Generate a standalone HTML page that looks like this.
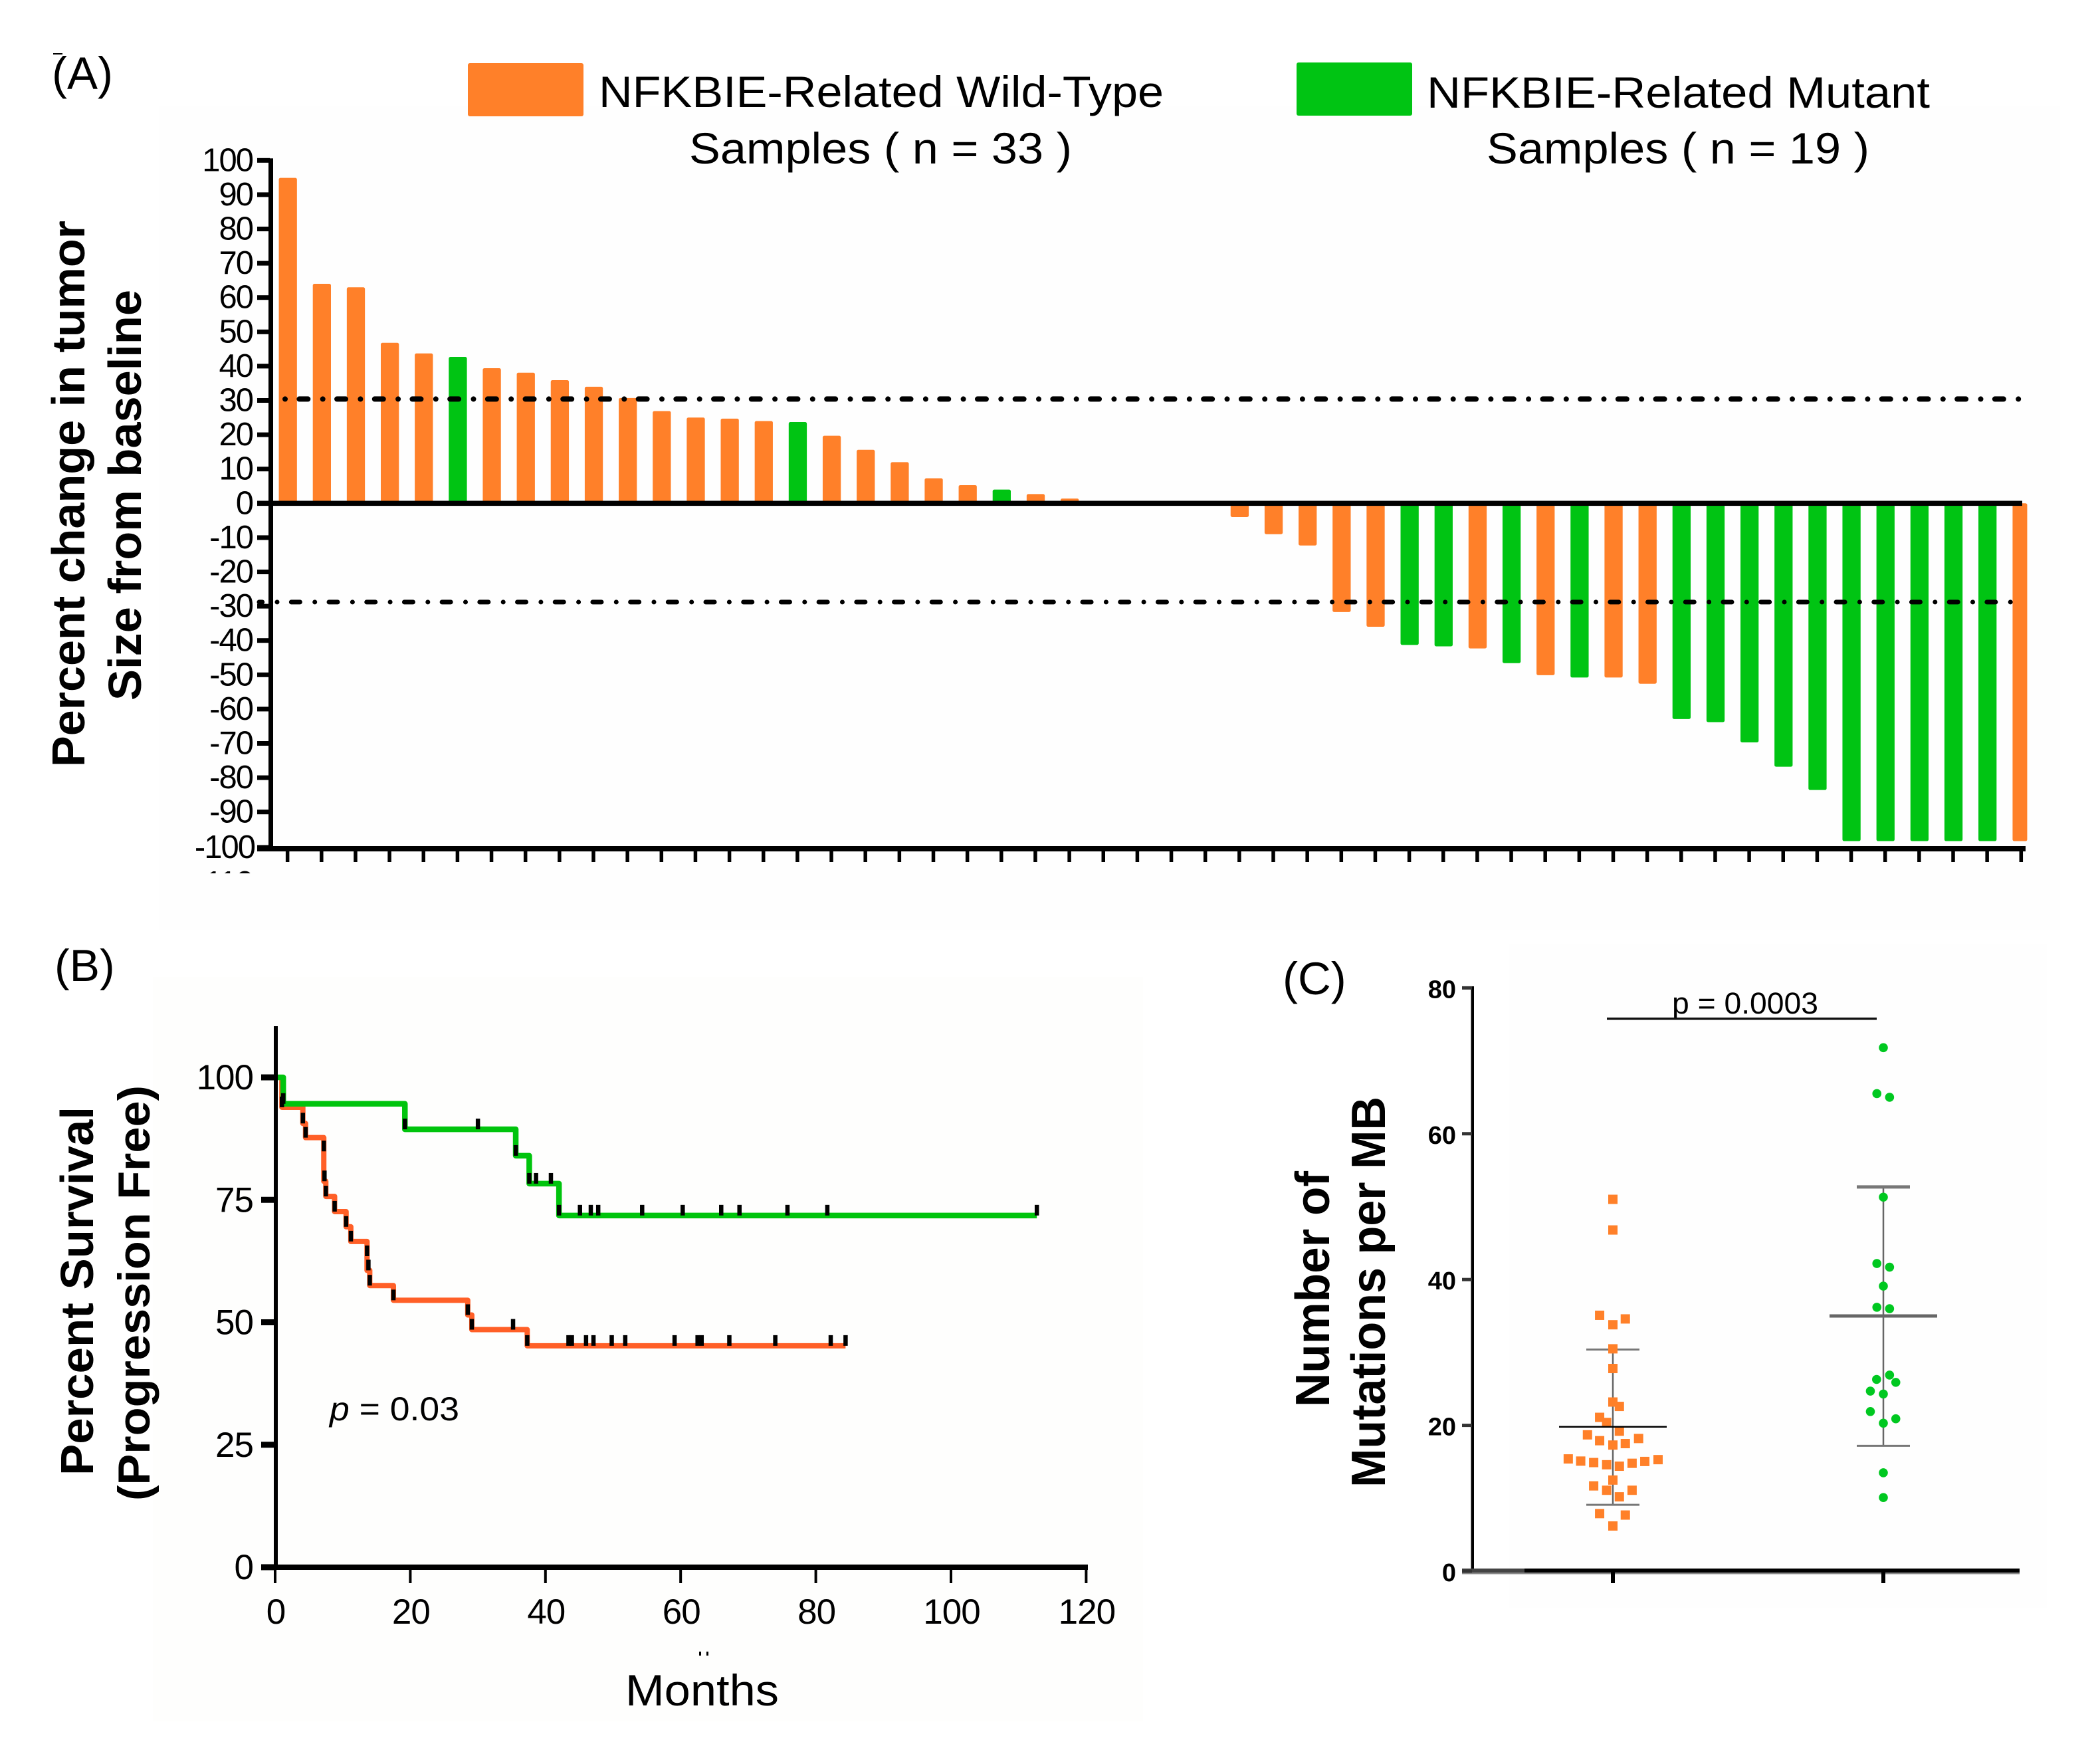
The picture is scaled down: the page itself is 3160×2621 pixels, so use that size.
<!DOCTYPE html>
<html>
<head>
<meta charset="utf-8">
<title>NFKBIE tumor response, survival and mutation burden</title>
<style>
html,body{margin:0;padding:0;background:#fff;width:3160px;height:2621px;overflow:hidden}
svg{display:block;font-family:"Liberation Sans",sans-serif}
</style>
</head>
<body>
<svg id="fig" xmlns="http://www.w3.org/2000/svg" width="3160" height="2621" viewBox="0 0 3160 2621">
  <defs><clipPath id="cut110"><rect x="280" y="1308" width="110" height="6"/></clipPath></defs>
  <rect width="3160" height="2621" fill="#fff"/>
  <rect x="240" y="160" width="2860" height="1240" fill="#fefefe"/>
  <rect x="230" y="1470" width="1490" height="1120" fill="#fefefd"/>
  <rect x="2270" y="1420" width="810" height="1000" fill="#fefefe"/>

  <text x="78" y="134" font-size="69">(A)</text>
  <rect x="80" y="80" width="14" height="2" fill="#000"/>
  <rect x="704" y="95" width="174" height="80" rx="3" fill="#ff8029"/>
  <text x="901" y="161" font-size="66" textLength="850" lengthAdjust="spacingAndGlyphs">NFKBIE-Related Wild-Type</text>
  <text x="1037" y="246" font-size="66" textLength="576" lengthAdjust="spacingAndGlyphs">Samples ( n = 33 )</text>
  <rect x="1951" y="94" width="174" height="80" rx="3" fill="#00c413"/>
  <text x="2147" y="162" font-size="66" textLength="757" lengthAdjust="spacingAndGlyphs">NFKBIE-Related Mutant</text>
  <text x="2237" y="246" font-size="66" textLength="576" lengthAdjust="spacingAndGlyphs">Samples ( n = 19 )</text>
  <text transform="translate(127,1154) rotate(-90)" font-size="70" font-weight="bold" textLength="822" lengthAdjust="spacingAndGlyphs">Percent change in tumor</text>
  <text transform="translate(212,1054) rotate(-90)" font-size="70" font-weight="bold" textLength="618" lengthAdjust="spacingAndGlyphs">Size from baseline</text>
  <text x="380" y="1345" font-size="49" letter-spacing="-2" text-anchor="end" clip-path="url(#cut110)">-110</text>
  <g id="panelA"></g>

  <text x="82" y="1476" font-size="68">(B)</text>
  <text transform="translate(140,2220) rotate(-90)" font-size="70" font-weight="bold" textLength="555" lengthAdjust="spacingAndGlyphs">Percent Survival</text>
  <text transform="translate(225,2258) rotate(-90)" font-size="68" font-weight="bold" textLength="625" lengthAdjust="spacingAndGlyphs">(Progression Free)</text>
  <text x="941" y="2566" font-size="66" textLength="231" lengthAdjust="spacingAndGlyphs">Months</text>
  <rect x="1052" y="2485" width="3" height="6" fill="#000"/>
  <rect x="1063" y="2485" width="3" height="6" fill="#000"/>
  <text x="496" y="2137" font-size="50" textLength="195" lengthAdjust="spacingAndGlyphs"><tspan font-style="italic">p</tspan> = 0.03</text>
  <g id="panelB"></g>

  <text x="1930" y="1496" font-size="69">(C)</text>
  <text transform="translate(2000,2117) rotate(-90)" font-size="72" font-weight="bold" textLength="355" lengthAdjust="spacingAndGlyphs">Number of</text>
  <text transform="translate(2084,2238) rotate(-90)" font-size="72" font-weight="bold" textLength="588" lengthAdjust="spacingAndGlyphs">Mutations per MB</text>
  <text x="2516" y="1525" font-size="45" textLength="220" lengthAdjust="spacingAndGlyphs">p = 0.0003</text>
  <rect x="2418" y="1531" width="406" height="3.5" fill="#111"/>
  <g id="panelC"></g>
</svg>
<script>
// Panel A data
const waterfallValues = [94.9,64,63,46.8,43.7,42.7,39.4,38.1,35.9,34,30.7,26.9,25,24.7,24,23.7,19.7,15.6,12,7.3,5.3,4,2.7,1.4,0,0,0,0,-4,-9,-12.3,-31.7,-36,-41.3,-41.7,-42.3,-46.6,-50.1,-50.8,-50.8,-52.6,-62.9,-63.8,-69.7,-76.8,-83.6,-98.5,-98.5,-98.5,-98.5,-98.5,-98.5];
const waterfallGroups = ['W','W','W','W','W','M','W','W','W','W','W','W','W','W','W','M','W','W','W','W','W','M','W','W','W','W','W','W','W','W','W','W','W','M','M','W','M','W','M','W','W','M','M','M','M','M','M','M','M','M','M','W'];
const waterfallYTicks = [100,90,80,70,60,50,40,30,20,10,0,-10,-20,-30,-40,-50,-60,-70,-80,-90,-100];
const upperThreshold = 30.4;
const lowerThreshold = -28.8;

// Panel B data
const wtMonths = [0,1,4.1,4.5,7.2,7.5,8.8,10.5,11.2,13.6,14,17.5,28.5,29.1,37.3,84.4];
const wtSurvival = [100,93.9,90.6,87.7,78.8,75.7,72.6,69.5,66.5,60.6,57.5,54.5,51.5,48.5,45.2,45.2];
const mutMonths = [0,1.2,19.2,35.6,37.6,42,112.7];
const mutSurvival = [100,94.6,89.4,84,78.3,71.8,71.8];
const wtCensorMonths = [1,4.1,4.5,7.2,7.3,7.5,8.8,10.5,11.2,13.6,13.8,14,17.5,28.5,29.1,35.2,37.3,43.4,43.9,46,47.1,49.8,51.8,59.1,62.5,63.1,67.2,74,82.2,84.4];
const wtCensorSurvival = [93.9,90.6,87.7,84.9,78.8,75.7,72.6,69.5,66.5,63.5,60.6,57.5,54.5,51.5,48.5,48.5,45.2,45.2,45.2,45.2,45.2,45.2,45.2,45.2,45.2,45.2,45.2,45.2,45.2,45.2];
const mutCensorMonths = [1.2,19.2,30,35.6,37.6,38.6,40.8,42,45.1,46.7,47.8,54.3,60.3,66,68.7,75.8,81.7,112.7];
const mutCensorSurvival = [94.6,89.4,89.4,84,78.3,78.3,78.3,71.8,71.8,71.8,71.8,71.8,71.8,71.8,71.8,71.8,71.8,71.8];
const survivalYTicks = [100,75,50,25,0];
const survivalXTicks = [0,20,40,60,80,100,120];

// Panel C data
const mutationYTicks = [80,60,40,20,0];
const wtBurden = [51,46.8,35.1,34.6,33.8,30.5,27.8,23.2,22.6,21.1,20.4,19.2,18.7,18.2,17.9,17.5,17.3,15.4,15.3,15.1,15.05,14.9,14.8,14.6,14.4,12.5,11.7,11.1,11.1,10.2,7.9,7.7,6.2];
const wtJitter = [0,0,-0.049,0.046,0,0,0,0,0.024,-0.049,-0.023,0.024,-0.094,0.095,-0.049,0.046,0,-0.165,0.167,-0.119,0.118,-0.071,0.071,-0.023,0.024,0,-0.071,0.071,-0.023,0.024,-0.049,0.046,0];
const mutBurden = [71.8,65.5,65,51.3,42.2,41.7,39.1,36.2,36,26.9,26.3,25.9,24.7,24.3,21.9,20.9,20.3,13.5,10.1];
const mutJitter = [0,-0.024,0.023,0,-0.024,0.023,0,-0.024,0.023,0.023,-0.025,0.046,-0.048,0,-0.048,0.046,0,0,0];
const wtSummary = [19.8,30.4,9.1];
const mutSummary = [35,52.7,17.2];

const NS = 'http://www.w3.org/2000/svg';
const ORANGE = '#ff8029', GREEN = '#00c413', KM_ORANGE = '#ff5f27', KM_GREEN = '#00c40d';

function add(parent, tag, attrs, text) {
  const n = document.createElementNS(NS, tag);
  for (const k in attrs) n.setAttribute(k, attrs[k]);
  if (text !== undefined) n.textContent = text;
  parent.appendChild(n);
  return n;
}

/* ---------- Panel A ---------- */
const gA = document.getElementById('panelA');
const ax = i => 433.2 + 51.15 * i;
const ay = v => 757.3 - 5.16 * v;

waterfallValues.forEach((v, i) => {
  const last = i === waterfallValues.length - 1;
  const w = last ? 22 : 27.3;
  const cx = last ? ax(i) - 2.4 : ax(i);
  const bar = add(gA, 'rect', {x: cx - w / 2, y: Math.min(ay(v), ay(0)), width: w, height: Math.abs(ay(v) - ay(0)), rx: v === 0 ? 0 : 2.5, fill: waterfallGroups[i] === 'M' ? GREEN : ORANGE});
  
  
});

const upperLine = add(gA, 'line', {x1: 429, x2: 3038, y1: ay(upperThreshold), y2: ay(upperThreshold), stroke: '#000', 'stroke-width': 8, 'stroke-linecap': 'round', 'stroke-dasharray': '0 21.35 13 22.35'});


const lowerLine = add(gA, 'line', {x1: 390, x2: 3026, y1: ay(lowerThreshold), y2: ay(lowerThreshold), stroke: '#000', 'stroke-width': 7, 'stroke-linecap': 'round', 'stroke-dasharray': '0 21.35 13 22.35', 'stroke-dashoffset': 29.7});



const aYAxis = add(gA, 'rect', {x: 404, y: ay(100) - 3, width: 7, height: 1280 - ay(100) + 3, fill: '#000'});


const aZero = add(gA, 'rect', {x: 387, y: ay(0) - 3.8, width: 2656, height: 7.6, fill: '#000'});


const aBase = add(gA, 'rect', {x: 387, y: 1273, width: 2661, height: 8, fill: '#000'});



waterfallYTicks.forEach(t => {
  const yy = t === -100 ? 1275 : ay(t);
  const tick = add(gA, 'rect', {x: 387, y: yy - 3.5, width: 19, height: 7, fill: '#000'});
  
  
  const lab = add(gA, 'text', {x: t === -100 ? 383 : 380, y: yy + 16, 'font-size': 49, 'letter-spacing': -2, 'text-anchor': 'end'}, String(t));
  
  
});
waterfallValues.forEach((v, i) => {
  const tick = add(gA, 'rect', {x: ax(i) - 3.3, y: 1277, width: 5.5, height: 20, fill: '#000'});
  
  
});

/* ---------- Panel B ---------- */
const gB = document.getElementById('panelB');
const bx = m => 414 + 10.17 * m;
const by = s => 2358 - 7.37 * s;

function stepPath(ms, ss) {
  let d = 'M' + bx(ms[0]) + ' ' + by(ss[0]);
  for (let i = 1; i < ms.length; i++) d += 'H' + bx(ms[i]) + 'V' + by(ss[i]);
  return d;
}
const wtCurve = add(gB, 'path', {d: stepPath(wtMonths, wtSurvival), fill: 'none', stroke: KM_ORANGE, 'stroke-width': 8, 'stroke-linejoin': 'round'});


const mutCurve = add(gB, 'path', {d: stepPath(mutMonths, mutSurvival), fill: 'none', stroke: KM_GREEN, 'stroke-width': 8.5, 'stroke-linejoin': 'round'});



wtCensorMonths.forEach((m, i) => {
  const c = add(gB, 'rect', {x: bx(m) - 3.2, y: by(wtCensorSurvival[i]) - 16, width: 6.5, height: 16, fill: '#000'});
  
  
});
mutCensorMonths.forEach((m, i) => {
  const c = add(gB, 'rect', {x: bx(m) - 3.2, y: by(mutCensorSurvival[i]) - 16, width: 6.5, height: 16, fill: '#000'});
  
  
});

const bYAxis = add(gB, 'rect', {x: 412, y: 1544, width: 6, height: 818, fill: '#000'});


const bXAxis = add(gB, 'rect', {x: 393, y: 2354, width: 1244, height: 8, fill: '#000'});



survivalYTicks.forEach(t => {
  const tick = add(gB, 'rect', {x: 393, y: by(t) - 4.5, width: 20, height: 9, fill: '#000'});
  
  
  const lab = add(gB, 'text', {x: 381, y: by(t) + 18, 'font-size': 53, 'letter-spacing': -1, 'text-anchor': 'end'}, String(t));
  
  
});
survivalXTicks.forEach(t => {
  const tick = add(gB, 'rect', {x: bx(t) - 2, y: 2358, width: 4, height: 24, fill: '#000'});
  
  
  const lab = add(gB, 'text', {x: bx(t) + 1, y: 2443, 'font-size': 53, 'letter-spacing': -1, 'text-anchor': 'middle'}, String(t));
  
  
});

/* ---------- Panel C ---------- */
const gC = document.getElementById('panelC');
const cx = g => 2427 + 407 * (g - 1);
const cy = v => 2364 - 10.97 * v;

function errorBars(group, summary, meanColor, meanW, capW, meanHalf, capHalf, label) {
  const xc = cx(group);
  const stem = add(gC, 'line', {x1: xc, x2: xc, y1: cy(summary[1]), y2: cy(summary[2]), stroke: '#666', 'stroke-width': 2.5});
  
  
  const top = add(gC, 'line', {x1: xc - capHalf, x2: xc + capHalf, y1: cy(summary[1]), y2: cy(summary[1]), stroke: '#777', 'stroke-width': capW});
  
  
  const bot = add(gC, 'line', {x1: xc - capHalf, x2: xc + capHalf, y1: cy(summary[2]), y2: cy(summary[2]), stroke: '#777', 'stroke-width': 3});
  
  
  return function drawMean() {
    const mean = add(gC, 'line', {x1: xc - meanHalf, x2: xc + meanHalf, y1: cy(summary[0]), y2: cy(summary[0]), stroke: meanColor, 'stroke-width': meanW});
    
    
  };
}

const wtMean = errorBars(1, wtSummary, '#000', 2.5, 3, 81, 40, 'wild-type');
const mutMean = errorBars(2, mutSummary, '#666', 5, 5, 81, 40, 'mutant');

wtBurden.forEach((v, i) => {
  const p = add(gC, 'rect', {x: cx(1 + wtJitter[i]) - 7, y: cy(v) - 7, width: 14, height: 14, fill: ORANGE});
  
  
});
mutBurden.forEach((v, i) => {
  const p = add(gC, 'circle', {cx: cx(2 + mutJitter[i]), cy: cy(v), r: 6.8, fill: '#00c820'});
  
  
});
wtMean();
mutMean();

const cYAxis = add(gC, 'rect', {x: 2213.5, y: 1484, width: 4.5, height: 880, fill: '#000'});


const cXFringe = add(gC, 'rect', {x: 2200, y: 2366, width: 839, height: 2.5, fill: '#888'});


const cXAxis = add(gC, 'rect', {x: 2294, y: 2360, width: 745, height: 6, fill: '#000'});


const cXStub = add(gC, 'rect', {x: 2200, y: 2360, width: 94, height: 6, fill: '#444'});



mutationYTicks.forEach(t => {
  const tick = add(gC, 'rect', {x: 2200, y: cy(t) - 2.5, width: 15, height: 5, fill: '#333'});
  
  
  const lab = add(gC, 'text', {x: 2191, y: cy(t) + 15, 'font-size': 38, 'font-weight': 'bold', 'text-anchor': 'end'}, String(t));
  
  
});
[1, 2].forEach(g => {
  const tick = add(gC, 'rect', {x: cx(g) - 3, y: 2364, width: 6, height: 18, fill: '#000'});
  
  
});
</script>
</body>
</html>
